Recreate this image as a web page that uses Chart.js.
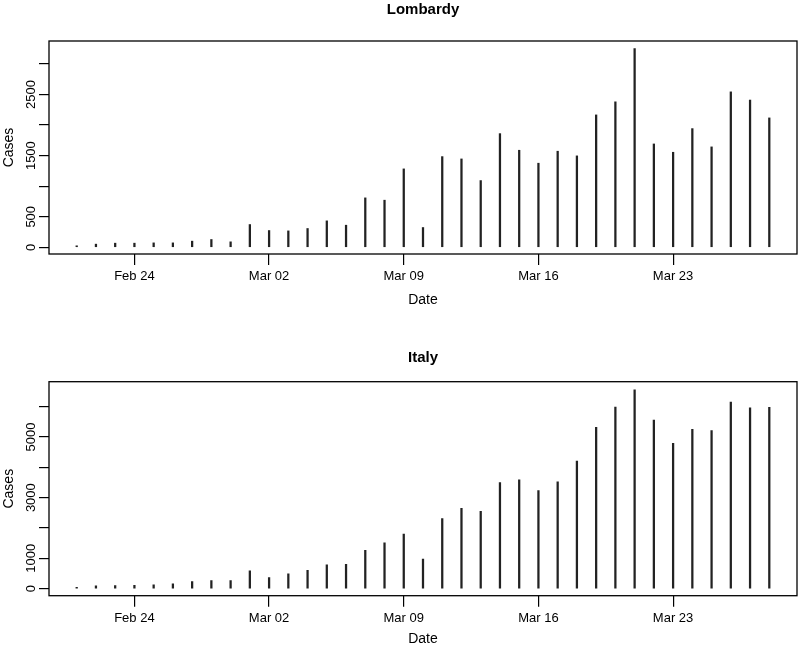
<!DOCTYPE html>
<html>
<head>
<meta charset="utf-8">
<script src="https://cdn.jsdelivr.net/npm/chart.js@4/dist/chart.umd.min.js"></script>
<style>
  html, body { margin: 0; padding: 0; background: #fff; }
  #wrap { position: relative; width: 800px; height: 648px; }
  .panel { position: absolute; left: 0; width: 800px; height: 324px; }
</style>
</head>
<body>
<div id="wrap">
  <div class="panel" style="top:0"><canvas id="lombardyChart" width="800" height="324"></canvas></div>
  <div class="panel" style="top:324px"><canvas id="italyChart" width="800" height="324"></canvas></div>
</div>
<script>
// daily new cases, Feb 21 .. Mar 28
const dates = [
    'Feb 21', 'Feb 22', 'Feb 23', 'Feb 24', 'Feb 25', 'Feb 26', 'Feb 27', 'Feb 28', 'Feb 29',
    'Mar 01', 'Mar 02', 'Mar 03', 'Mar 04', 'Mar 05', 'Mar 06', 'Mar 07', 'Mar 08', 'Mar 09',
    'Mar 10', 'Mar 11', 'Mar 12', 'Mar 13', 'Mar 14', 'Mar 15', 'Mar 16', 'Mar 17', 'Mar 18',
    'Mar 19', 'Mar 20', 'Mar 21', 'Mar 22', 'Mar 23', 'Mar 24', 'Mar 25', 'Mar 26', 'Mar 27', 'Mar 28'
];

const lombardyCases = [
    25, 52, 68, 68, 73, 73, 101, 128, 90,
    373, 275, 269, 308, 433, 362, 809, 771, 1283,
    324, 1484, 1446, 1092, 1860, 1588, 1376, 1572, 1496,
    2166, 2380, 3251, 1691, 1555, 1942, 1643, 2543, 2409, 2117
];

const italyCases = [
    40, 91, 102, 113, 124, 157, 234, 267, 267,
    585, 366, 487, 607, 783, 805, 1267, 1508, 1797,
    977, 2313, 2651, 2547, 3497, 3590, 3233, 3526, 4207,
    5322, 5986, 6557, 5560, 4789, 5249, 5210, 6153, 5959, 5974
];

// x ticks: day index from Feb 21
const xTickDays = [3, 10, 17, 24, 31];
const xTickLabels = ['Feb 24', 'Mar 02', 'Mar 09', 'Mar 16', 'Mar 23'];

const lombardyYTicks = [0, 500, 1000, 1500, 2000, 2500, 3000];
const lombardyYLabels = ['0', '500', '', '1500', '', '2500', ''];
const italyYTicks = [0, 1000, 2000, 3000, 4000, 5000, 6000];
const italyYLabels = ['0', '1000', '', '3000', '', '5000', ''];

const FONT_FAMILY = '"Liberation Sans", Arial, Helvetica, sans-serif';
const TICK_SIZE = 13;

// plot frame like R's box()
const boxPlugin = {
    id: 'box',
    afterDatasetsDraw(chart) {
        const { ctx, chartArea: a } = chart;
        ctx.save();
        ctx.strokeStyle = '#000';
        ctx.lineWidth = 1.3;
        ctx.strokeRect(a.left, a.top, a.right - a.left, a.bottom - a.top);
        ctx.restore();
    }
};

function textWidth(text, size) {
    const c = document.createElement('canvas').getContext('2d');
    c.font = size + 'px ' + FONT_FAMILY;
    return c.measureText(text).width;
}

function makePanel(canvasId, title, values, yMin, yMax, yTicks, yLabels, lay) {
    const widest = Math.max(...yLabels.map(l => textWidth(l, TICK_SIZE)));
    const yLabelPad = 49 - 10 - 31 - widest / 2;

    return new Chart(document.getElementById(canvasId), {
        type: 'bar',
        data: {
            datasets: [{
                data: values.map((v, i) => ({ x: i, y: v })),
                backgroundColor: '#222',
                borderWidth: 0,
                barThickness: 1.6
            }]
        },
        options: {
            responsive: false,
            animation: false,
            layout: { padding: { left: 0, right: 3, top: 0, bottom: 0 } },
            plugins: {
                legend: { display: false },
                tooltip: { enabled: false },
                title: {
                    display: true,
                    fullSize: false,
                    text: title,
                    color: '#000',
                    font: { family: FONT_FAMILY, size: 15, weight: 'bold', lineHeight: 1.2 },
                    padding: { top: lay.titleTop, bottom: lay.titleBottom }
                }
            },
            scales: {
                x: {
                    type: 'linear',
                    min: -1.44,
                    max: 37.44,
                    offset: false,
                    afterFit: (scale) => { scale.height = lay.xHeight; },
                    afterBuildTicks: (scale) => { scale.ticks = xTickDays.map(v => ({ value: v })); },
                    grid: { drawOnChartArea: false, drawTicks: true, tickLength: 11, color: '#000', lineWidth: 1.2, offset: false },
                    border: { display: false },
                    ticks: {
                        autoSkip: false,
                        maxRotation: 0,
                        padding: 4,
                        color: '#000',
                        font: { family: FONT_FAMILY, size: TICK_SIZE },
                        callback: (value, index) => xTickLabels[index]
                    },
                    title: {
                        display: true,
                        text: 'Date',
                        color: '#000',
                        font: { family: FONT_FAMILY, size: 14, lineHeight: 1.2 },
                        padding: { top: 0, bottom: lay.dateBottom }
                    }
                },
                y: {
                    min: yMin,
                    max: yMax,
                    afterFit: (scale) => { scale.width = 49; },
                    afterBuildTicks: (scale) => { scale.ticks = yTicks.map(v => ({ value: v })); },
                    grid: { drawOnChartArea: false, drawTicks: true, tickLength: 10, color: '#000', lineWidth: 1.2 },
                    border: { display: false },
                    ticks: {
                        autoSkip: false,
                        minRotation: 90,
                        maxRotation: 90,
                        crossAlign: 'center',
                        padding: yLabelPad,
                        color: '#000',
                        font: { family: FONT_FAMILY, size: TICK_SIZE },
                        callback: (value, index) => yLabels[index]
                    },
                    title: {
                        display: true,
                        text: 'Cases',
                        color: '#000',
                        font: { family: FONT_FAMILY, size: 14, lineHeight: 1.2 },
                        padding: { top: 0.6, bottom: 0 }
                    }
                }
            }
        },
        plugins: [boxPlugin]
    });
}

makePanel('lombardyChart', 'Lombardy', lombardyCases, -109, 3375, lombardyYTicks, lombardyYLabels,
    { titleTop: 1, titleBottom: 22, xHeight: 70, dateBottom: 15.6 });

makePanel('italyChart', 'Italy', italyCases, -232, 6823, italyYTicks, italyYLabels,
    { titleTop: 25, titleBottom: 14.7, xHeight: 52.3, dateBottom: 0.6 });
</script>
</body>
</html>
